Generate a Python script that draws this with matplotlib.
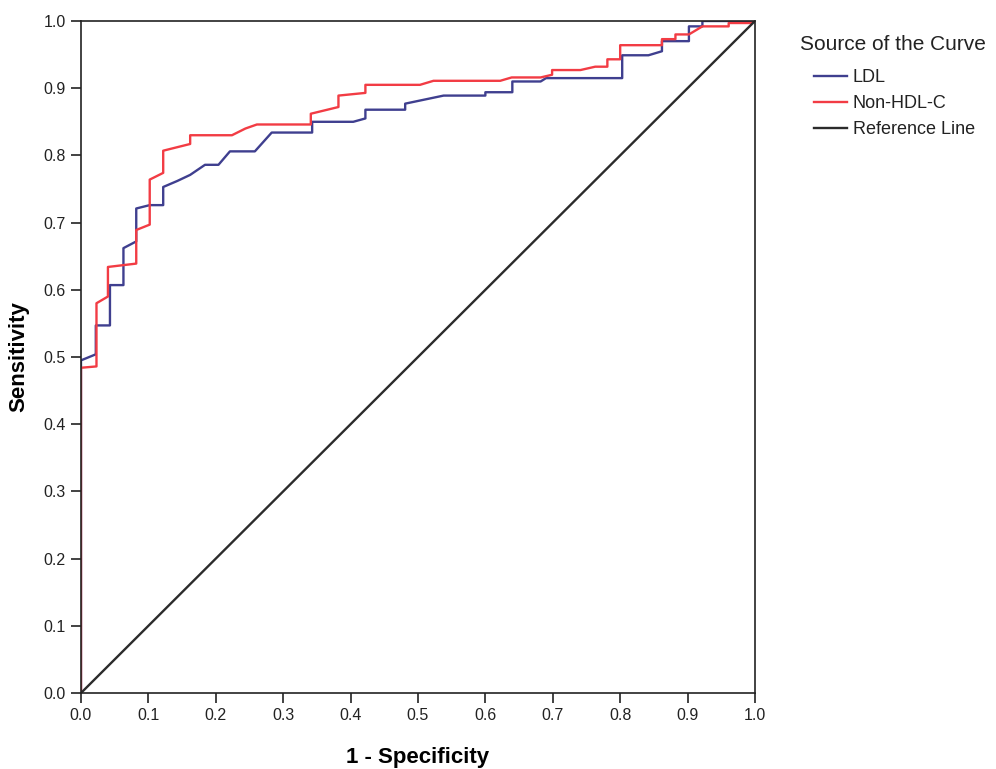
import matplotlib
matplotlib.use("Agg")
import matplotlib.pyplot as plt
from matplotlib.ticker import MultipleLocator, FormatStrFormatter

# ---------- ROC curve points (1 - specificity, sensitivity) ----------
ldl_fpr = [0, 0, 0.022, 0.022, 0.043, 0.043, 0.063, 0.063, 0.082, 0.082,
           0.102, 0.122, 0.122, 0.143, 0.162, 0.184, 0.204, 0.221, 0.258,
           0.283, 0.343, 0.343, 0.404, 0.422, 0.422, 0.481, 0.481, 0.538,
           0.600, 0.600, 0.640, 0.640, 0.682, 0.690, 0.803, 0.803, 0.842,
           0.862, 0.862, 0.902, 0.902, 0.922, 0.922, 1.0]
ldl_tpr = [0, 0.495, 0.504, 0.547, 0.547, 0.607, 0.607, 0.662, 0.672, 0.721,
           0.726, 0.726, 0.753, 0.762, 0.771, 0.786, 0.786, 0.806, 0.806,
           0.834, 0.834, 0.850, 0.850, 0.855, 0.868, 0.868, 0.877, 0.889,
           0.889, 0.894, 0.894, 0.910, 0.910, 0.915, 0.915, 0.949, 0.949,
           0.955, 0.970, 0.970, 0.992, 0.992, 1.0, 1.0]

nonhdl_fpr = [0, 0, 0.023, 0.023, 0.040, 0.040, 0.082, 0.082, 0.102, 0.102,
              0.122, 0.122, 0.162, 0.162, 0.224, 0.244, 0.261, 0.341, 0.341,
              0.382, 0.382, 0.422, 0.422, 0.503, 0.523, 0.622, 0.639, 0.682,
              0.699, 0.699, 0.741, 0.763, 0.781, 0.781, 0.800, 0.800, 0.862,
              0.862, 0.882, 0.882, 0.902, 0.922, 0.961, 0.961, 0.993, 1.0]
nonhdl_tpr = [0, 0.484, 0.486, 0.580, 0.590, 0.634, 0.639, 0.689, 0.697, 0.764,
              0.774, 0.807, 0.817, 0.830, 0.830, 0.840, 0.846, 0.846, 0.862,
              0.872, 0.889, 0.893, 0.905, 0.905, 0.911, 0.911, 0.916, 0.916,
              0.920, 0.927, 0.927, 0.932, 0.932, 0.943, 0.943, 0.964, 0.964,
              0.973, 0.973, 0.980, 0.980, 0.992, 0.992, 0.997, 0.997, 1.0]

ref_x = [0, 1]
ref_y = [0, 1]

FONT = ['Liberation Sans', 'DejaVu Sans']
plt.rcParams['font.family'] = FONT

fig = plt.figure(figsize=(9.96, 7.69), dpi=100)
ax = fig.add_axes([0.0813, 0.0988, 0.6767, 0.8739])

ax.plot(ldl_fpr, ldl_tpr, color='#3f3f8f', lw=1.7, label='LDL')
ax.plot(nonhdl_fpr, nonhdl_tpr, color='#f23c44', lw=1.7, label='Non-HDL-C')
ax.plot(ref_x, ref_y, color='#2b2b2b', lw=1.7, label='Reference Line')

ax.set_xlim(0, 1)
ax.set_ylim(0, 1)
ax.xaxis.set_major_locator(MultipleLocator(0.1))
ax.yaxis.set_major_locator(MultipleLocator(0.1))
ax.xaxis.set_major_formatter(FormatStrFormatter('%.1f'))
ax.yaxis.set_major_formatter(FormatStrFormatter('%.1f'))
ax.tick_params(direction='out', length=7, width=1.2, labelsize=11.5,
               color='#222222', labelcolor='#222222', pad=4)
for s in ax.spines.values():
    s.set_linewidth(1.2)
    s.set_color('#222222')

ax.set_xlabel('1 - Specificity', fontsize=16, fontweight='bold', labelpad=17)
ax.set_ylabel('Sensitivity', fontsize=16, fontweight='bold', labelpad=10)

fig.text(800 / 996, 1 - 45 / 769, 'Source of the Curve', fontsize=15,
         color='#222222', va='center', ha='left')
leg = fig.legend(loc='upper left', bbox_to_anchor=(814 / 996, 1 - 69 / 769),
                 frameon=False, borderpad=0, borderaxespad=0,
                 handlelength=1.85, handletextpad=0.3, labelspacing=0.5,
                 prop={'size': 13})
for t in leg.get_texts():
    t.set_color('#222222')

fig.savefig('out.png', dpi=100)
